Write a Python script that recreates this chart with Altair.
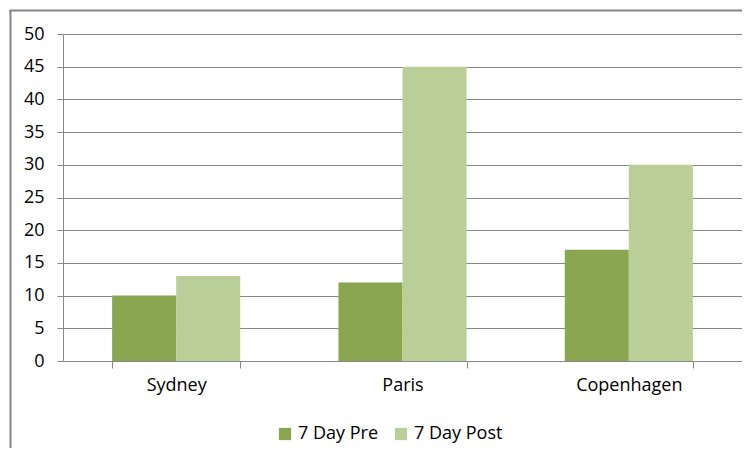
import altair as alt
import pandas as pd

cities = ["Sydney", "Paris", "Copenhagen"]
pre = [10, 12, 17]
post = [13, 45, 30]
series = ["7 Day Pre", "7 Day Post"]
colors = ["#8BA650", "#B9CF97"]
y_ticks = [0, 5, 10, 15, 20, 25, 30, 35, 40, 45, 50]

rows = []
for c, a, b in zip(cities, pre, post):
    rows.append({"city": c, "series": series[0], "value": a})
    rows.append({"city": c, "series": series[1], "value": b})
df = pd.DataFrame(rows)

FONT = "Open Sans"
FS = 18
GREY = "#878787"

bars = alt.Chart(df).mark_bar().encode(
    x=alt.X("city:N", sort=cities,
            scale=alt.Scale(paddingInner=0.434, paddingOuter=0.217),
            axis=alt.Axis(title=None, labelAngle=0, tickBand="extent", grid=False,
                          domainColor=GREY, tickColor=GREY, tickSize=7,
                          labelFont=FONT, labelFontSize=FS, labelColor="#000000",
                          labelPadding=8)),
    xOffset=alt.XOffset("series:N", sort=series, scale=alt.Scale(paddingInner=0, paddingOuter=0)),
    y=alt.Y("value:Q", scale=alt.Scale(domain=[0, 50], nice=False),
            axis=alt.Axis(title=None, values=y_ticks, grid=True, gridColor=GREY,
                          domainColor=GREY, tickColor=GREY, tickSize=6,
                          labelFont=FONT, labelFontSize=FS, labelColor="#000000",
                          labelPadding=13)),
    color=alt.Color("series:N", sort=series,
                    scale=alt.Scale(domain=series, range=colors),
                    legend=alt.Legend(title=None, orient="none", direction="horizontal",
                                      legendX=213, legendY=391, symbolType="square",
                                      symbolSize=150, symbolStrokeWidth=0,
                                      labelFont=FONT, labelFontSize=FS, labelColor="#000000",
                                      labelOffset=4, columnPadding=13)),
)

one = pd.DataFrame({"a": [0]})
left_border = alt.Chart(one).mark_rule(color="#868686", strokeWidth=2).encode(
    x=alt.value(-52.5), y=alt.value(-24), y2=alt.value(430))
top_border = alt.Chart(one).mark_rule(color="#868686", strokeWidth=2).encode(
    x=alt.value(-53.5), x2=alt.value(690), y=alt.value(-23.5))

chart = alt.layer(bars, left_border, top_border).properties(
    width=679, height=327,
    autosize=alt.AutoSizeParams(type="none"),
    padding={"left": 55, "top": 26, "right": 0, "bottom": 87},
).configure_view(stroke=None)

chart.save("out.html", embed_options={"renderer": "svg", "actions": False})
